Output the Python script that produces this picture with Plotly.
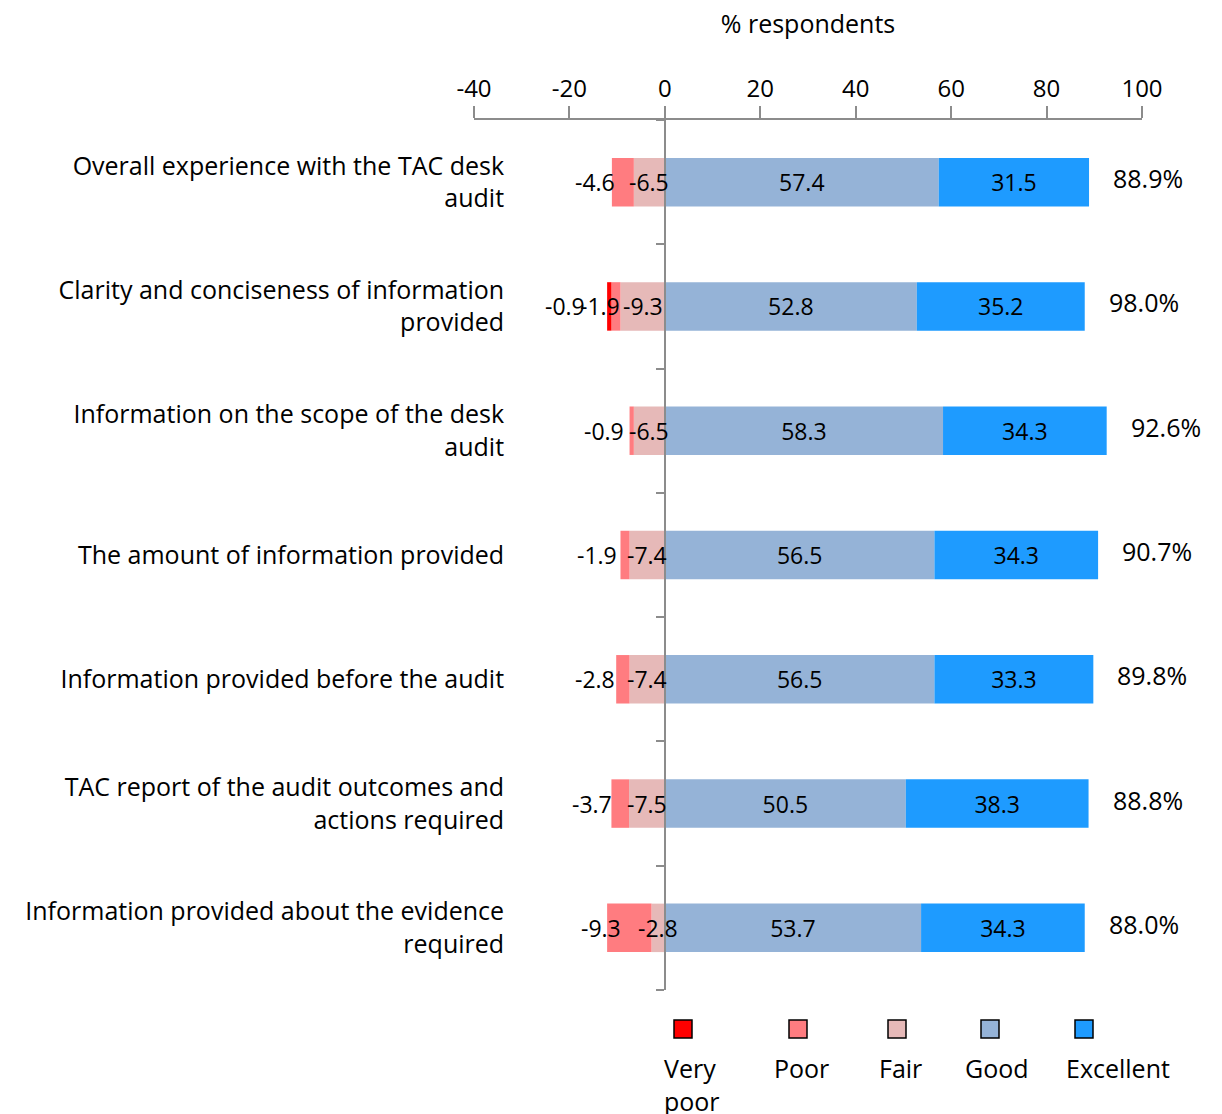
import plotly.graph_objects as go

# ---------------- data ----------------
categories = [
    "Overall experience with the TAC desk audit",
    "Clarity and conciseness of information provided",
    "Information on the scope of the desk audit",
    "The amount of information provided",
    "Information provided before the audit",
    "TAC report of the audit outcomes and actions required",
    "Information provided about the evidence required",
]
tick_labels = [
    "Overall experience with the TAC desk<br>audit",
    "Clarity and conciseness of information<br>provided",
    "Information on the scope of the desk<br>audit",
    "The amount of information provided",
    "Information provided before the audit",
    "TAC report of the audit outcomes and<br>actions required",
    "Information provided about the evidence<br>required",
]
very_poor = [None, -0.9, None, None, None, None, None]
poor = [-4.6, -1.9, -0.9, -1.9, -2.8, -3.7, -9.3]
fair = [-6.5, -9.3, -6.5, -7.4, -7.4, -7.5, -2.8]
good = [57.4, 52.8, 58.3, 56.5, 56.5, 50.5, 53.7]
excellent = [31.5, 35.2, 34.3, 34.3, 33.3, 38.3, 34.3]
totals = ["88.9%", "98.0%", "92.6%", "90.7%", "89.8%", "88.8%", "88.0%"]
x_ticks = [-40, -20, 0, 20, 40, 60, 80, 100]
x_tick_labels = ["-40", "-20", "0", "20", "40", "60", "80", "100"]

series_names = ["Very<br>poor", "Poor", "Fair", "Good", "Excellent"]
colors = {"vp": "#FF0000", "poor": "#FF7C80", "fair": "#E6B9B8",
          "good": "#95B3D7", "exc": "#1E9BFF"}

FONT = "Open Sans"
FS_BAR = 23
FS_TEXT = 25
AXIS_COL = "#8C8C8C"

def fmt(v):
    return "" if v is None else f"{v:.1f}"

fig = go.Figure()

def add_bar(vals, color, name, show_text):
    fig.add_trace(go.Bar(
        y=categories, x=vals, orientation="h", name=name,
        marker=dict(color=color, line=dict(width=0)),
        text=[fmt(v) for v in vals] if show_text else None,
        textposition="inside" if show_text else "none",
        insidetextanchor="middle", constraintext="none", textangle=0,
        textfont=dict(family=FONT, size=FS_BAR, color="black"),
        cliponaxis=False, showlegend=False, hoverinfo="x+y",
    ))

add_bar(fair, colors["fair"], "Fair", False)
add_bar(poor, colors["poor"], "Poor", False)
add_bar(very_poor, colors["vp"], "Very poor", False)
add_bar(good, colors["good"], "Good", True)
add_bar(excellent, colors["exc"], "Excellent", True)

annotations = []
bar_font = dict(family=FONT, size=FS_BAR, color="black")
for i, c in enumerate(categories):
    f = fair[i] or 0
    p = poor[i] or 0
    # Fair label: centred on its segment
    annotations.append(dict(x=f / 2, y=c, xref="x", yref="y", text=fmt(fair[i]),
                            showarrow=False, font=bar_font))
    # Poor / Very poor labels: pushed to the left like the original
    has_vp = very_poor[i] is not None
    annotations.append(dict(x=f + p / 2, y=c, xref="x", yref="y", text=fmt(poor[i]),
                            showarrow=False, xshift=-16 if has_vp else -28, font=bar_font))
    if has_vp:
        annotations.append(dict(x=f + p + very_poor[i] / 2, y=c, xref="x", yref="y",
                                text=fmt(very_poor[i]), showarrow=False, xshift=-44,
                                font=bar_font))
    # total label
    annotations.append(dict(x=good[i] + excellent[i], y=c, xref="x", yref="y",
                            text=totals[i], showarrow=False, xanchor="left",
                            xshift=22, yshift=4,
                            font=dict(family=FONT, size=FS_TEXT, color="black")))

# custom legend (square above the label)
W, H = 1222, 1114
ML, MR, MT, MB = 474, 80, 120, 124
pw, ph = W - ML - MR, H - MT - MB
def px_x(px):
    return (px - ML) / pw
def px_y(py):
    return (H - MB - py) / ph

leg_centers = [683, 798, 897, 990, 1084]
leg_text_left = [662, 772, 877, 963, 1064]
leg_colors = [colors["vp"], colors["poor"], colors["fair"], colors["good"], colors["exc"]]
shapes = []
for cx, lx, col, name in zip(leg_centers, leg_text_left, leg_colors, series_names):
    shapes.append(dict(type="rect", xref="paper", yref="paper",
                       x0=px_x(cx - 9), x1=px_x(cx + 9), y0=px_y(1038), y1=px_y(1020),
                       fillcolor=col, line=dict(color="black", width=1.5)))
    annotations.append(dict(x=px_x(lx), y=px_y(1049), xref="paper", yref="paper",
                            text=name, showarrow=False, xanchor="left", yanchor="top",
                            align="left",
                            font=dict(family=FONT, size=FS_TEXT, color="black")))

fig.update_layout(
    width=W, height=H,
    margin=dict(l=ML, r=MR, t=MT, b=MB),
    barmode="relative", bargap=0.61,
    plot_bgcolor="white", paper_bgcolor="white",
    font=dict(family=FONT, size=FS_TEXT, color="black"),
    annotations=annotations, shapes=shapes,
    xaxis=dict(
        side="top", range=[-40, 100], tickvals=x_ticks, ticktext=x_tick_labels,
        showline=True, linecolor=AXIS_COL, linewidth=1.5,
        ticks="outside", ticklen=12, tickcolor=AXIS_COL, tickwidth=1.5,
        showgrid=False, zeroline=False,
        tickfont=dict(family=FONT, size=24, color="black"),
        title=dict(text="% respondents", font=dict(family=FONT, size=FS_TEXT, color="black"),
                   standoff=30),
    ),
    yaxis=dict(
        type="category", categoryorder="array", categoryarray=categories,
        autorange="reversed",
        tickvals=categories, ticktext=tick_labels,
        anchor="free", position=40 / 140,
        showline=True, linecolor=AXIS_COL, linewidth=1.5,
        ticks="outside", tickson="boundaries", ticklen=8, tickcolor=AXIS_COL, tickwidth=1.5,
        showgrid=False, zeroline=False,
        ticklabelstandoff=155,
        tickfont=dict(family=FONT, size=FS_TEXT, color="black"),
    ),
)

fig.write_html("out.html", config={"displayModeBar": False},
               post_script="document.body.style.margin='0';document.body.style.padding='0';")
